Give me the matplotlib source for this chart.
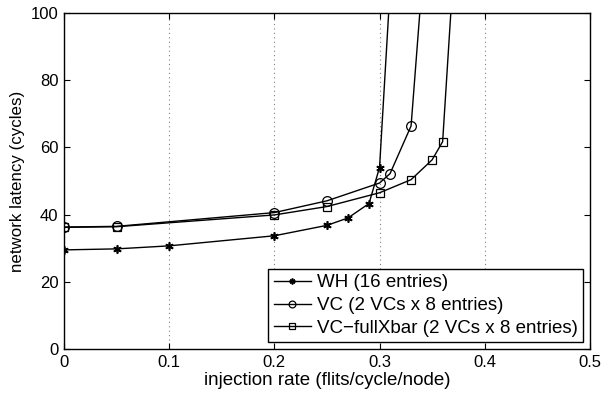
import matplotlib
matplotlib.use("Agg")
import matplotlib.pyplot as plt

wh_x = [0, 0.05, 0.1, 0.2, 0.25, 0.27, 0.29, 0.30, 0.31]
wh_y = [29.5, 29.8, 30.7, 33.7, 36.8, 39.0, 43.3, 54.0, 107]
vc_x = [0, 0.05, 0.2, 0.25, 0.30, 0.31, 0.33, 0.34]
vc_y = [36.3, 36.5, 40.6, 44.1, 49.4, 52.2, 66.4, 107]
fx_x = [0, 0.05, 0.2, 0.25, 0.30, 0.33, 0.35, 0.36, 0.37]
fx_y = [36.2, 36.4, 39.9, 42.4, 46.5, 50.4, 56.3, 61.7, 111]
labels = ["WH (16 entries)", "VC (2 VCs x 8 entries)", "VC\u2212fullXbar (2 VCs x 8 entries)"]

plt.rcParams['font.family'] = ['Liberation Sans', 'DejaVu Sans']
fig = plt.figure(figsize=(6.05, 3.99), dpi=100)
ax = fig.add_axes([0.1058, 0.1253, 0.975 - 0.1058, 0.9674 - 0.1253])

lw = 1.0
ax.plot(wh_x, wh_y, color='black', lw=lw, marker=(6, 2, 0), ms=6, mew=1.2, label=labels[0])
ax.plot(vc_x, vc_y, color='black', lw=lw, marker='o', ms=7, mfc='none', mew=0.9, label=labels[1])
ax.plot(fx_x, fx_y, color='black', lw=lw, marker='s', ms=6, mfc='none', mew=0.9, label=labels[2])

ax.set_xlim(0, 0.5)
ax.set_ylim(0, 100)
ax.set_xticks([0, 0.1, 0.2, 0.3, 0.4, 0.5])
ax.set_xticklabels(["0", "0.1", "0.2", "0.3", "0.4", "0.5"])
ax.set_yticks([0, 20, 40, 60, 80, 100])
ax.xaxis.grid(True, linestyle=(0, (1, 3)), color='gray', lw=0.8)
ax.tick_params(direction='in', top=True, right=True, labelsize=12, length=4, width=0.8, pad=4)
for s in ax.spines.values():
    s.set_linewidth(1.0)
ax.set_xlabel("injection rate (flits/cycle/node)", fontsize=13.5, labelpad=2)
ax.set_ylabel("network latency (cycles)", fontsize=12.2, labelpad=4)

leg = ax.legend(loc='lower right', fontsize=13.5, fancybox=False, edgecolor='black',
                framealpha=1, borderaxespad=0.35, handlelength=2.0, handletextpad=0.3,
                labelspacing=0.3, borderpad=0.3, markerscale=0.7)
leg.get_frame().set_linewidth(1.0)

fig.savefig("out.png", dpi=100)
